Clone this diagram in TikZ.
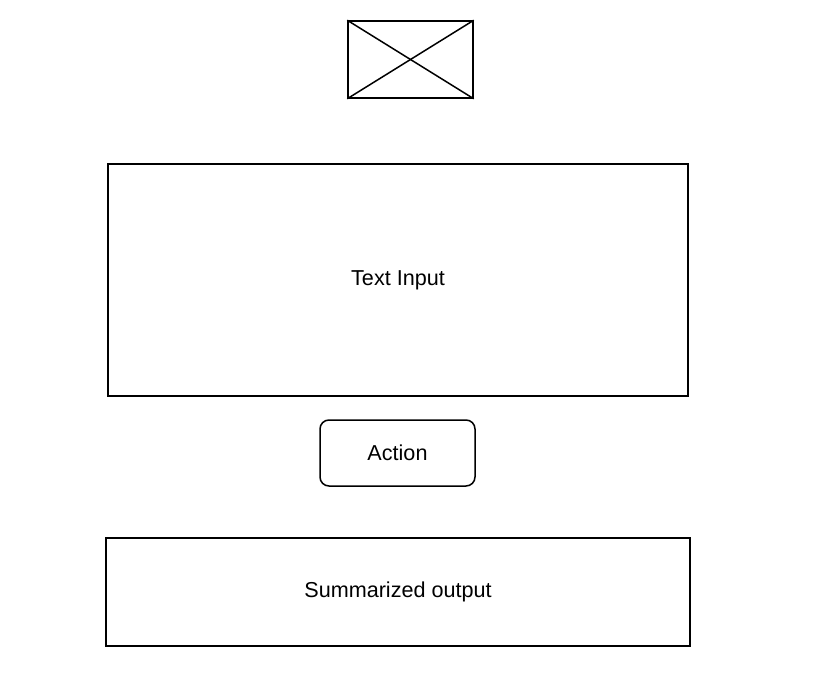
\documentclass[tikz,border=0pt]{standalone}
\usepackage{fontspec}
\setmainfont{Liberation Sans}
\usepackage{tikz}
\usetikzlibrary{positioning}

\begin{document}
\begin{tikzpicture}[
  x=1pt, y=-1pt,
  box/.style = {rectangle, draw, line width=1.5pt,
                font=\fontsize{21.6}{26}\selectfont, align=center},
  roundbox/.style = {box, rounded corners=9pt},
  imgbox/.style = {rectangle, draw, line width=1.5pt,
                   minimum width=125pt, minimum height=77pt},
]
\useasboundingbox (0,0) rectangle (823,685);

\node[imgbox] (image) at (410.5,59.5) {};
\node[box, minimum width=580pt, minimum height=232pt] (input) at (398,280) {Text Input};
\node[roundbox, minimum width=155pt, minimum height=66pt] (action) at (397.5,453) {Action};
\node[box, minimum width=584pt, minimum height=108pt] (output) at (398,592) {Summarized output};

\draw[line width=1.5pt] (image.north west) -- (image.south east);
\draw[line width=1.5pt] (image.south west) -- (image.north east);

\end{tikzpicture}
\end{document}
